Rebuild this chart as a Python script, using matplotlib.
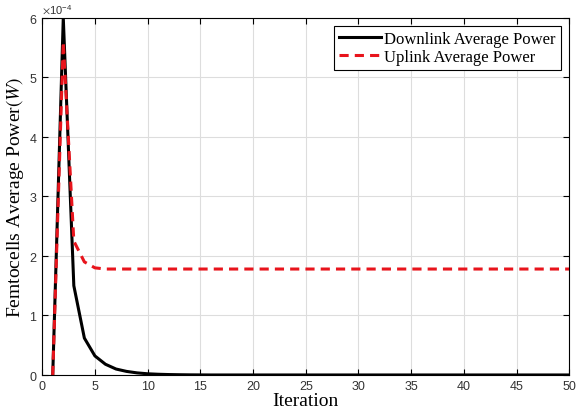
import numpy as np
import matplotlib.pyplot as plt
from matplotlib.ticker import ScalarFormatter

# iteration index and power values (W)
iterations = np.arange(1, 51)
downlink_head = [0.0, 6.0e-4, 1.5e-4, 0.62e-4, 0.32e-4, 0.18e-4, 0.10e-4,
                 0.06e-4, 0.035e-4, 0.02e-4, 0.012e-4, 0.007e-4, 0.004e-4,
                 0.002e-4, 0.001e-4]
uplink_head = [0.0, 5.6e-4, 2.25e-4, 1.9e-4, 1.8e-4, 1.78e-4]

downlink = downlink_head + [0.0] * (len(iterations) - len(downlink_head))
uplink = uplink_head + [1.78e-4] * (len(iterations) - len(uplink_head))

plt.rcParams['font.family'] = 'Liberation Sans'
plt.rcParams['mathtext.fontset'] = 'stix'

fig = plt.figure(figsize=(5.78, 4.10), dpi=100)
ax = fig.add_axes([0.073, 0.083, 0.912, 0.871])

ax.plot(iterations, downlink, color='black', linewidth=2.2,
        label='Downlink Average Power')
ax.plot(iterations, uplink, color='#e8141c', linewidth=2.2,
        linestyle=(0, (3, 2)), label='Uplink Average Power')

ax.set_xlim(0, 50)
ax.set_ylim(0, 6e-4)
ax.set_xticks(np.arange(0, 51, 5))
ax.set_yticks(np.arange(0, 7e-4, 1e-4))
fmt = ScalarFormatter(useMathText=True)
fmt.set_powerlimits((-4, -4))
ax.yaxis.set_major_formatter(fmt)
ax.yaxis.get_offset_text().set_fontsize(8)
ax.yaxis.get_offset_text().set_color('#333333')
ax.tick_params(direction='in', top=True, right=True, labelsize=9,
               labelcolor='#333333', length=4)
ax.grid(True, color='#dddddd', linewidth=0.8)
ax.set_axisbelow(True)

ax.set_xlabel('Iteration', family='Liberation Serif', fontsize=14, labelpad=0)
ax.set_ylabel('Femtocells Average Power$(W)$', family='Liberation Serif',
              fontsize=14, labelpad=2)

leg = ax.legend(loc='upper right', prop={'family': 'Liberation Serif', 'size': 12},
                fancybox=False, framealpha=1, edgecolor='black',
                handlelength=2.5, handletextpad=0.2, borderpad=0.3,
                labelspacing=0.1)
leg.get_frame().set_linewidth(0.8)

plt.savefig('out.png', dpi=100)
